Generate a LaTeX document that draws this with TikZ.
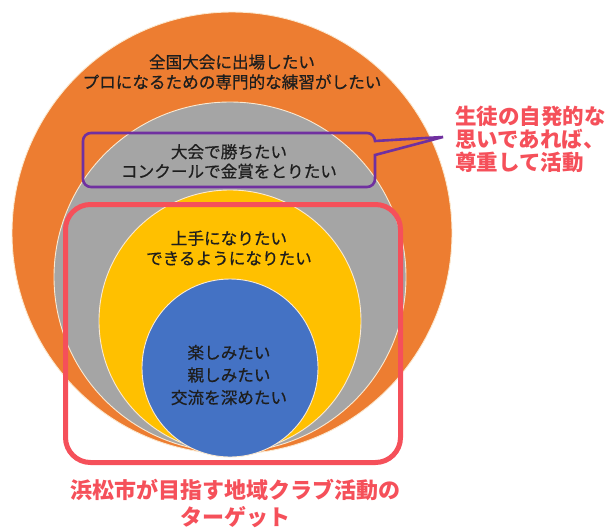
\documentclass[tikz,border=0pt]{standalone}
\usepackage{fontspec}
\setmainfont{Noto Sans CJK JP}
\newfontfamily\wishfont[FakeBold=0.6]{Noto Sans CJK JP}
\definecolor{ringorange}{HTML}{ED7D31}
\definecolor{ringgray}{HTML}{A5A5A5}
\definecolor{ringyellow}{HTML}{FFC000}
\definecolor{ringblue}{HTML}{4472C4}
\definecolor{ringedge}{HTML}{FBE9D0}
\definecolor{targetred}{HTML}{F5505A}
\definecolor{calloutpurple}{HTML}{7030A0}
\definecolor{wishtext}{HTML}{1E1E1E}
\newcommand{\wishring}[4]
{   \filldraw[fill=#1, draw=ringedge, line width=0.9] (#2) ellipse [x radius=#3, y radius=#4];
}

\begin{document}
\begin{tikzpicture}[x=1pt,y=-1pt,
  wish/.style={align=center, inner sep=0, text=wishtext, font=\wishfont\fontsize{16.6}{20}\selectfont},
  note/.style={inner sep=0, text=targetred, font=\bfseries\fontsize{21.5}{23}\selectfont}]
 \useasboundingbox (0,0) rectangle (613,528);

 \wishring{ringorange}{232,233}{220}{221}
 \wishring{ringgray}{230,277}{176}{175}
 \wishring{ringyellow}{230,321}{131}{131}
 \wishring{ringblue}{230,368}{88}{89}

   % callout box with its tail
   \draw[calloutpurple, line width=2.6] (91,133) -- (367,133) arc[start angle=-90, end angle=0, radius=8]
      -- (443,137) -- (375,155) -- (375,179) arc[start angle=0, end angle=90, radius=8]
      -- (91,187) arc[start angle=90, end angle=180, radius=8]
      -- (83,141) arc[start angle=180, end angle=270, radius=8] -- cycle;
   % target frame
   \draw[targetred, line width=5, rounded corners=25] (65.5,204.5) rectangle (400.5,462.5);

   \node[wish] (national) at (232,72) {全国大会に出場したい\\プロになるための専門的な練習がしたい};
   \node[wish, font=\wishfont\fontsize{16.6}{19.5}\selectfont] (contest) at (229,161.5) {大会で勝ちたい\\コンクールで金賞をとりたい};
   \node[wish] (improve) at (229,248) {上手になりたい\\できるようになりたい};
   \node[wish, font=\wishfont\fontsize{16.6}{22.5}\selectfont] (enjoy) at (229,375) {楽しみたい\\親しみたい\\交流を深めたい};
   \node[note, anchor=west, align=left] (respect) at (455,139.5) {生徒の自発的な\\思いであれば、\\尊重して活動};
   \node[note, align=center, font=\bfseries\fontsize{22}{27}\selectfont] (target) at (235,503.5) {浜松市が目指す地域クラブ活動の\\ターゲット};

 \end{tikzpicture}
\end{document}
